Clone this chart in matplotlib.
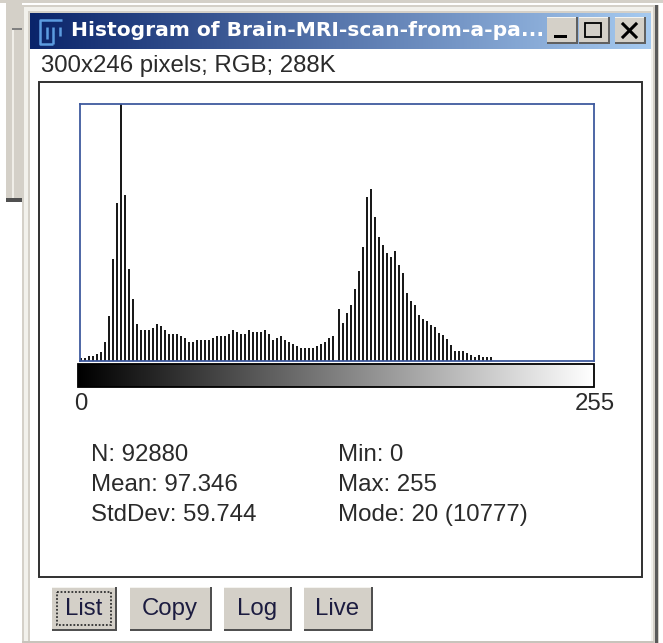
import matplotlib
matplotlib.use('Agg')
import matplotlib.pyplot as plt
import numpy as np
from matplotlib.patches import Rectangle

# histogram values (only every other bin shows)
left_bins = list(range(0, 128, 2))
left_counts = [18, 18, 36, 36, 54, 72, 162, 396, 909, 1413, 10777, 1485, 819, 549, 324, 270,
               270, 270, 288, 324, 306, 270, 234, 234, 234, 216, 198, 162, 162, 180, 180, 180,
               180, 198, 216, 216, 216, 234, 270, 252, 234, 234, 270, 252, 252, 252, 270, 234,
               180, 198, 216, 180, 162, 144, 126, 108, 108, 108, 108, 126, 144, 162, 198, 216]
right_bins = list(range(129, 207, 2))
right_counts = [459, 333, 423, 495, 639, 801, 1017, 1467, 1539, 1287, 1107, 1035, 963, 927, 981,
                855, 783, 603, 531, 495, 405, 369, 351, 315, 297, 243, 225, 189, 135, 81, 81,
                81, 63, 45, 27, 45, 27, 27, 27]
y_max = 2304

title = 'Histogram of Brain-MRI-scan-from-a-pa...'
subtitle = '300x246 pixels; RGB; 288K'
stats_left = ['N: 92880', 'Mean: 97.346', 'StdDev: 59.744']
stats_right = ['Min: 0', 'Max: 255', 'Mode: 20 (10777)']
buttons = ['List', 'Copy', 'Log', 'Live']

W, H = 663, 643
GRAY = '#d4d0c8'
BLUE = '#3f5a9e'
TEXT = '#2a2a2a'
FS = 17.3

plt.rcParams['font.family'] = ['Liberation Sans', 'DejaVu Sans']

fig = plt.figure(figsize=(W / 100, H / 100), dpi=100, facecolor='white')

# everything around the plot is drawn in pixel coordinates
bg = fig.add_axes([0, 0, 1, 1])
bg.axis('off')


def box(x0, y0, x1, y1, color, z=1):
    bg.add_patch(Rectangle((x0, y0), x1 - x0, y1 - y0, facecolor=color, edgecolor='none', zorder=z))


def outline(x0, y0, x1, y1, color, lw=1.2, z=3):
    bg.add_patch(Rectangle((x0, y0), x1 - x0, y1 - y0, facecolor='none', edgecolor=color, lw=lw, zorder=z))


# window behind
box(6, 0, 22, 199, GRAY)
box(0, 0, 663, 3, GRAY)
box(12, 28, 22, 30, '#808080', 2)
box(12, 30, 14, 199, '#f0eee8', 2)
box(6, 198, 24, 202, '#505050', 2)

# histogram window
box(22, 5, 659, 643, GRAY, 3)
box(24, 7, 653, 641, '#f2f1ec', 3)
box(28, 11, 651, 643, GRAY, 3)
box(30, 49, 651, 641, 'white', 3)
box(655, 5, 658, 643, '#5a5a5a', 4)
box(22, 641, 654, 643, '#c8c4bc', 4)

# title bar
grad = np.linspace(0, 1, 256)[None, :, None]
start = np.array([10, 36, 106]) / 255
end = np.array([166, 202, 240]) / 255
bg.imshow(start + grad * (end - start), extent=(30, 651, 49, 13), aspect='auto', zorder=4)
bg.text(71, 31, title, color='white', fontsize=14.6, fontweight='bold', family='DejaVu Sans',
        va='center', ha='left', zorder=6)

# ImageJ icon
icon_lines = [([62, 40, 40, 53], [20, 20, 44, 44]), ([47, 47], [27, 39]),
              ([53, 53], [27, 44]), ([60, 60], [27, 36])]
for xs, ys in icon_lines:
    bg.plot(xs, ys, color='#5c9ce0', lw=1.8, solid_capstyle='butt', zorder=6)

# title bar buttons
for x0, x1 in [(547, 578), (579, 610), (615, 646)]:
    box(x0, 17, x1, 44, GRAY, 5)
    box(x0, 42, x1, 44, '#606060', 6)
    box(x1 - 2, 17, x1, 44, '#606060', 6)
    box(x0, 17, x1 - 2, 18, '#f4f3ef', 6)
box(554, 35, 567, 38, 'black', 7)
outline(585, 23, 601, 37, 'black', 1.3, 7)
bg.plot([623, 636], [24, 37], color='black', lw=2.2, zorder=7)
bg.plot([623, 636], [37, 24], color='black', lw=2.2, zorder=7)

bg.text(41, 66, subtitle, color=TEXT, fontsize=FS, va='center', ha='left', zorder=6)

# frame around plot and stats
outline(39, 82, 642, 577, '#303030', 1.4, 5)

# gray ramp
ramp = np.linspace(0, 1, 256)[None, :]
bg.imshow(ramp, cmap='gray', extent=(78, 594, 387, 364), aspect='auto', zorder=6, vmin=0, vmax=1)
outline(78, 364, 594, 387, 'black', 1.3, 7)

bg.text(81, 404, '0', color=TEXT, fontsize=FS, va='center', ha='center', zorder=6)
bg.text(615, 404, '255', color=TEXT, fontsize=FS, va='center', ha='right', zorder=6)

for i, s in enumerate(stats_left):
    bg.text(91, 455 + 30 * i, s, color=TEXT, fontsize=FS, va='center', ha='left', zorder=6)
for i, s in enumerate(stats_right):
    bg.text(338, 455 + 30 * i, s, color=TEXT, fontsize=FS, va='center', ha='left', zorder=6)

# buttons at the bottom
button_x = [(52, 117), (130, 212), (224, 292), (304, 373)]
for (x0, x1), s in zip(button_x, buttons):
    box(x0, 587, x1, 631, GRAY, 5)
    box(x0, 629, x1, 631, '#505050', 6)
    box(x1 - 2, 587, x1, 631, '#505050', 6)
    box(x0, 587, x1 - 2, 588, '#f4f3ef', 6)
    bg.text((x0 + x1) / 2 - 1, 609, s, color='#1c1c40', fontsize=FS, va='center', ha='center', zorder=7)
outline(57, 592, 111, 625, '#303030', 1.3, 7)
bg.patches[-1].set_linestyle((0, (1, 1)))

bg.set_xlim(0, W)
bg.set_ylim(H, 0)

# the histogram itself
ax = fig.add_axes([79.5 / W, 1 - 360.5 / H, 514.5 / W, 256.5 / H])
ax.bar(left_bins, left_counts, width=1.0, color='#1a1a1a')
ax.bar(right_bins, right_counts, width=1.0, color='#1a1a1a')
ax.set_xlim(-0.6, 256.65)
ax.set_ylim(0, y_max)
ax.set_xticks([])
ax.set_yticks([])
for spine in ax.spines.values():
    spine.set_color(BLUE)
    spine.set_linewidth(1.3)

fig.savefig('out.png', dpi=100)
